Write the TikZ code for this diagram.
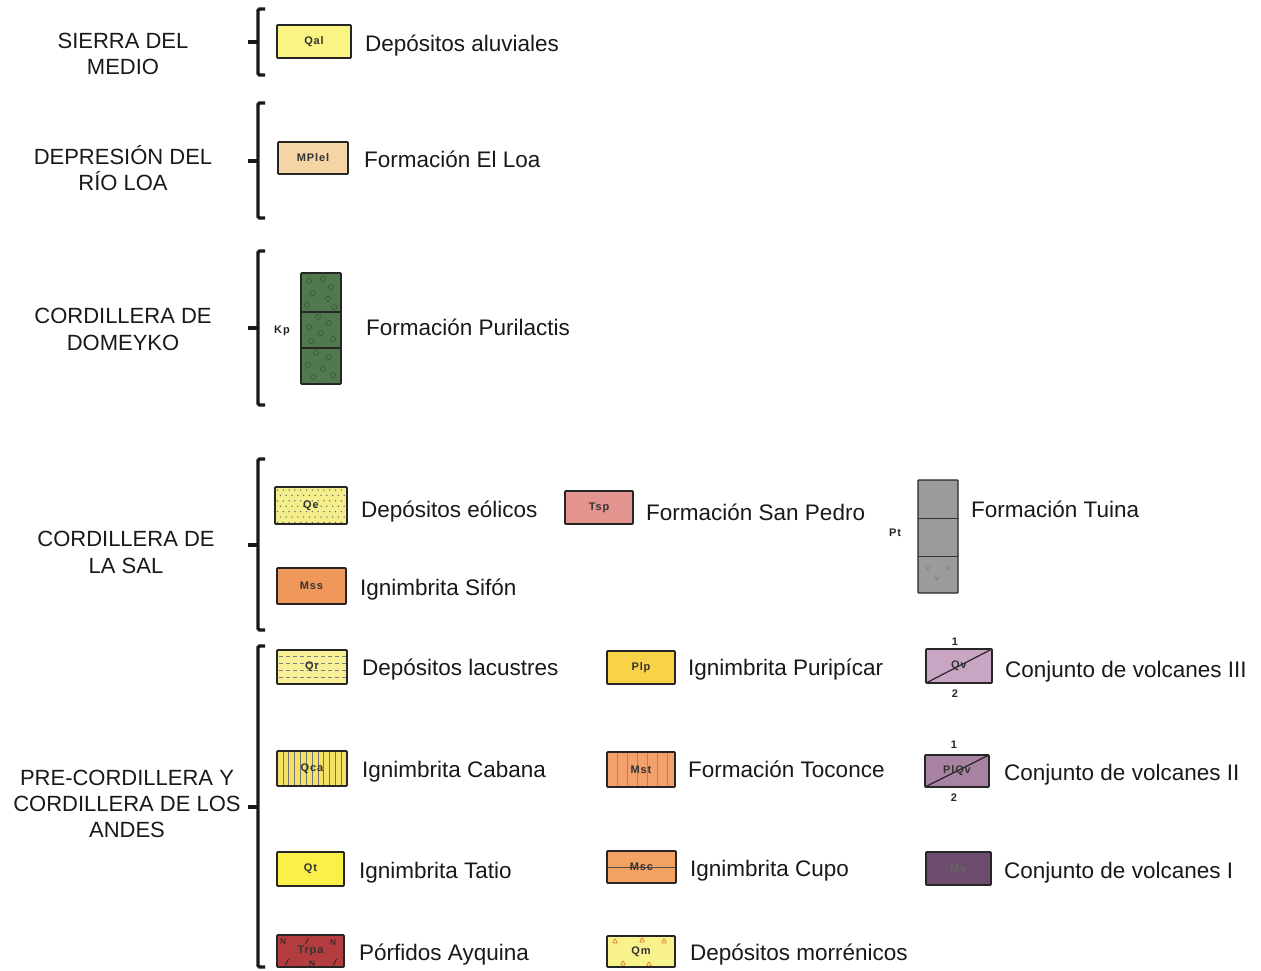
\documentclass[tikz,border=0pt]{standalone}
\usepackage{fontspec}
\setmainfont{Liberation Sans}
\usetikzlibrary{calc}
\newfontfamily\unitfam[LetterSpace=8]{Liberation Sans}
\newcommand\lblfont{\fontsize{22.5}{27}\selectfont}
\newcommand\regfont{\fontsize{22}{26}\selectfont}
\newcommand\unitfont{\unitfam\bfseries\fontsize{11}{12}\selectfont}
\definecolor{txt}{RGB}{25,25,25}
\definecolor{cQal}{RGB}{250,244,130}
\definecolor{cMPlel}{RGB}{245,212,165}
\definecolor{cKp}{RGB}{82,120,78}
\definecolor{cKpd}{RGB}{55,85,52}
\definecolor{cQe}{RGB}{245,238,140}
\definecolor{cTsp}{RGB}{228,148,142}
\definecolor{cMss}{RGB}{240,152,92}
\definecolor{cPt}{RGB}{155,155,153}
\definecolor{cQr}{RGB}{247,240,150}
\definecolor{cQca}{RGB}{243,226,100}
\definecolor{cPlp}{RGB}{248,210,72}
\definecolor{cMst}{RGB}{244,160,108}
\definecolor{cQt}{RGB}{250,240,72}
\definecolor{cTrpa}{RGB}{178,60,62}
\definecolor{cMsc}{RGB}{244,162,100}
\definecolor{cQm}{RGB}{247,242,140}
\definecolor{cTri}{RGB}{225,130,50}
\definecolor{cQv}{RGB}{200,166,195}
\definecolor{cPlQv}{RGB}{168,130,163}
\definecolor{cMv}{RGB}{110,76,110}
\tikzset{
  unit/.style={draw=black!85, line width=1.7pt, inner sep=0pt, font=\unitfont, text=black!80, rounded corners=0.8pt},
  lbl/.style={anchor=base west, font=\lblfont, text=txt, inner sep=0pt},
  region/.style={anchor=base, font=\regfont, text=txt, inner sep=0pt},
  small/.style={font=\unitfont, text=black!85, inner sep=0pt},
  bracket/.style={line width=3.4pt, draw=black!90, rounded corners=1.5pt},
  dotpat/.style={path picture={\foreach \i in {0,...,12}{\foreach \j in {0,...,6}{\fill[black!60] ($(path picture bounding box.north west)+({2.5+\i*5.8+mod(\j,2)*2.9},{3+\j*5.4})$) circle (0.75);}}}},
  vlines/.style 2 args={path picture={\foreach \i in {1,...,#2}{\draw[#1, line width=0.6pt] ($(path picture bounding box.north west)+({\i*70/(#2+1)},0)$) -- ++(0,40);}}},
  hdash/.style={path picture={\foreach \j in {6,13,20,27}{\draw[black!50, line width=0.6pt, dash pattern=on 4pt off 3pt] ($(path picture bounding box.north west)+(2,\j)$) -- ++(80,0);}}},
  hmid/.style={path picture={\draw[black!70, line width=0.7pt] (path picture bounding box.west) -- (path picture bounding box.east);}},
  diag/.style={path picture={\draw[black!85, line width=1.2pt] (path picture bounding box.south west) -- (path picture bounding box.north east);}},
  tris/.style={path picture={\foreach \p/\q in {8/5,35/4,57/5,16/27,42/28}{\draw[cTri, line width=0.8pt] ($(path picture bounding box.north west)+(\p,\q)$) ++(-2.5,2) -- ++(5,0) -- ++(-2.5,-4.5) -- cycle;}}},
  marks/.style={path picture={\foreach \p/\q in {6/6,56/7,35/28}{\draw[black!85, line width=0.7pt] ($(path picture bounding box.north west)+(\p,\q)$) ++(-2,3) -- ++(0,-6) -- ++(4,6) -- ++(0,-6);}
     \foreach \p/\q in {30/6,10/27,58/27}{\draw[black!85, line width=0.7pt] ($(path picture bounding box.north west)+(\p,\q)$) ++(-1.5,3) -- ++(3,-6);}}},
  kptex/.style={path picture={
     \foreach \p/\q in {8/8,22/6,30/14,12/20,27/26,6/32,33/34,17/44,8/54,28/50,20/60,10/68,32/66,15/80,28/84,7/92,22/96,32/102,12/104}{\draw[cKpd, line width=0.5pt] ($(path picture bounding box.north west)+(\p,\q)$) circle (2.6);}
     \draw[black!85, line width=1.2pt] ($(path picture bounding box.north west)+(0,39)$) -- ++(45,0);
     \draw[black!85, line width=1.2pt] ($(path picture bounding box.north west)+(0,75)$) -- ++(45,0);}},
  pttex/.style={path picture={
     \foreach \p/\q in {10/20,25/30,14/50,30/58,20/66,8/8,32/12,18/44}{\fill[black!45] ($(path picture bounding box.north west)+(\p,\q)$) circle (0.7);}
     \draw[black!80, line width=0.9pt] ($(path picture bounding box.north west)+(0,38)$) -- ++(45,0);
     \draw[black!80, line width=0.9pt] ($(path picture bounding box.north west)+(0,76)$) -- ++(45,0);
     \foreach \p/\q in {10/88,30/88,19/98}{\draw[black!50, line width=0.7pt] ($(path picture bounding box.north west)+(\p,\q)$) ++(-2,-2.5) -- ++(2,5) -- ++(2,-5);}}}
}
\begin{document}
\begin{tikzpicture}[x=1pt,y=-1pt]
\useasboundingbox[fill=white] (0,0) rectangle (1261,970);

% ---------- region labels ----------
\node[region] (r1a) at (123,48) {SIERRA DEL};
\node[region] (r1b) at (123,74) {MEDIO};
\node[region] (r2a) at (123,164) {DEPRESIÓN DEL};
\node[region] (r2b) at (123,190) {RÍO LOA};
\node[region] (r3a) at (123,323) {CORDILLERA DE};
\node[region] (r3b) at (123,350) {DOMEYKO};
\node[region] (r4a) at (126,546) {CORDILLERA DE};
\node[region] (r4b) at (126,573) {LA SAL};
\node[region] (r5a) at (127,785) {PRE-CORDILLERA Y};
\node[region] (r5b) at (127,811) {CORDILLERA DE LOS};
\node[region] (r5c) at (127,837) {ANDES};

% ---------- brackets ----------
\draw[bracket] (265,9) -- (258,9) -- (258,75) -- (265,75);
\draw[bracket, rounded corners=0pt] (258,42) -- (248,42);
\draw[bracket] (265,103) -- (258,103) -- (258,218) -- (265,218);
\draw[bracket, rounded corners=0pt] (258,161) -- (248,161);
\draw[bracket] (265,251) -- (258,251) -- (258,405) -- (265,405);
\draw[bracket, rounded corners=0pt] (258,328) -- (248,328);
\draw[bracket] (265,459) -- (258,459) -- (258,630) -- (265,630);
\draw[bracket, rounded corners=0pt] (258,545) -- (248,545);
\draw[bracket] (265,646) -- (258,646) -- (258,967) -- (265,967);
\draw[bracket, rounded corners=0pt] (258,807) -- (248,807);

% ---------- Sierra del Medio ----------
\node[unit, fill=cQal, minimum width=74pt, minimum height=33pt] (qal) at (314,41.5) {Qal};
\node[lbl] (lqal) at (365,51) {Depósitos aluviales};

% ---------- Depresion del Rio Loa ----------
\node[unit, fill=cMPlel, minimum width=70pt, minimum height=32pt] (mplel) at (313,158) {MPlel};
\node[lbl] (lmplel) at (364,167) {Formación El Loa};

% ---------- Cordillera de Domeyko ----------
\node[unit, fill=cKp, kptex, minimum width=40pt, minimum height=111pt] (kp) at (321,328.5) {};
\node[small] (kpl) at (282,331) {Kp};
\node[lbl] (lkp) at (366,335) {Formación Purilactis};

% ---------- Cordillera de la Sal ----------
\node[unit, fill=cQe, dotpat, minimum width=72pt, minimum height=37pt] (qe) at (311,505.5) {Qe};
\node[lbl] (lqe) at (361,517) {Depósitos eólicos};
\node[unit, fill=cTsp, minimum width=68pt, minimum height=33pt] (tsp) at (599,507.5) {Tsp};
\node[lbl] (ltsp) at (646,520) {Formación San Pedro};
\node[unit, fill=cMss, minimum width=69pt, minimum height=36pt] (mss) at (311.5,586) {Mss};
\node[lbl] (lmss) at (360,595) {Ignimbrita Sifón};
\node[unit, fill=cPt, pttex, minimum width=40pt, minimum height=113pt, line width=1.3pt] (pt) at (938,536.5) {};
\node[small] (ptl) at (895,533) {Pt};
\node[lbl] (lpt) at (971,517) {Formación Tuina};

% ---------- Pre-cordillera y Cordillera de los Andes ----------
\node[unit, fill=cQr, hdash, minimum width=70pt, minimum height=34pt] (qr) at (312,667) {Qr};
\node[lbl] (lqr) at (362,675) {Depósitos lacustres};
\node[unit, fill=cQca, vlines={black!55}{11}, minimum width=70pt, minimum height=35pt] (qca) at (312,768.5) {Qca};
\node[lbl] (lqca) at (362,777) {Ignimbrita Cabana};
\node[unit, fill=cQt, minimum width=67pt, minimum height=34pt] (qt) at (310.5,869) {Qt};
\node[lbl] (lqt) at (359,878) {Ignimbrita Tatio};
\node[unit, fill=cTrpa, marks, minimum width=67pt, minimum height=32pt] (trpa) at (310.5,951) {Trpa};
\node[lbl] (ltrpa) at (359,960) {Pórfidos Ayquina};

\node[unit, fill=cPlp, minimum width=68pt, minimum height=33pt] (plp) at (641,667.5) {Plp};
\node[lbl] (lplp) at (688,675) {Ignimbrita Puripícar};
\node[unit, fill=cMst, vlines={black!45}{6}, minimum width=68pt, minimum height=35pt] (mst) at (641,769.5) {Mst};
\node[lbl] (lmst) at (688,777) {Formación Toconce};
\node[unit, fill=cMsc, hmid, minimum width=69pt, minimum height=32pt] (msc) at (641.5,867) {Msc};
\node[lbl] (lmsc) at (690,876) {Ignimbrita Cupo};
\node[unit, fill=cQm, tris, minimum width=68pt, minimum height=31pt] (qm) at (641,951.5) {\raisebox{-3pt}{Qm}};
\node[lbl] (lqm) at (690,960) {Depósitos morrénicos};

\node[unit, fill=cQv, diag, minimum width=66pt, minimum height=34pt] (qv) at (959,666) {Qv};
\node[small] (qv1) at (955,642) {1};
\node[small] (qv2) at (955,694) {2};
\node[lbl] (lqv) at (1005,677) {Conjunto de volcanes III};
\node[unit, fill=cPlQv, diag, minimum width=64pt, minimum height=32pt] (plqv) at (957,771) {PlQv};
\node[small] (plqv1) at (954,745) {1};
\node[small] (plqv2) at (954,798) {2};
\node[lbl] (lplqv) at (1004,780) {Conjunto de volcanes II};
\node[unit, fill=cMv, minimum width=65pt, minimum height=33pt, text=black!60] (mv) at (958.5,868.5) {Mv};
\node[lbl] (lmv) at (1004,878) {Conjunto de volcanes I};
\end{tikzpicture}
\end{document}
